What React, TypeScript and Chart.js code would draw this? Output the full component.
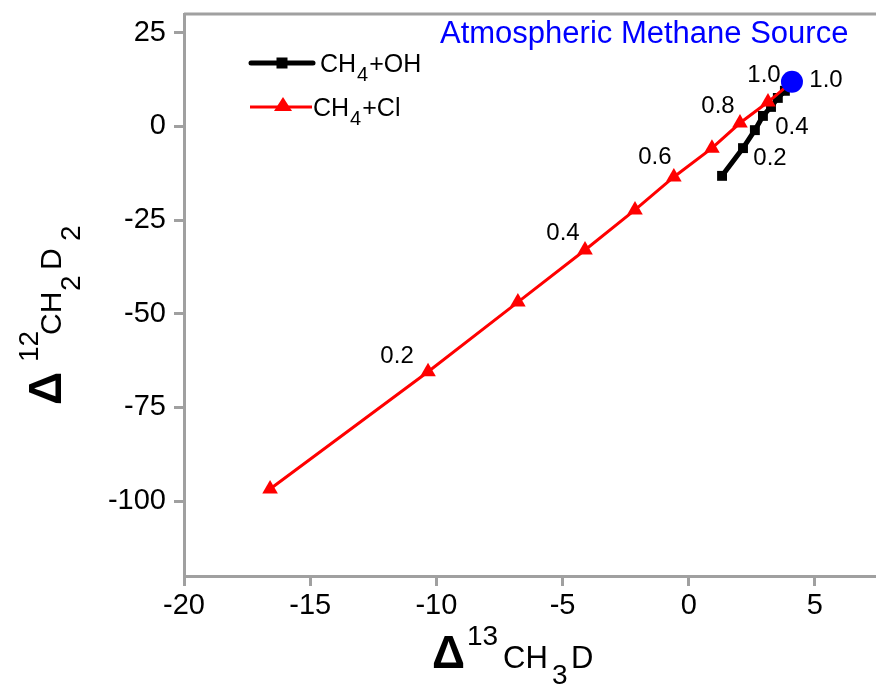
import React, { useEffect, useRef } from "react";
import { Chart, registerables } from "chart.js";
Chart.register(...registerables);

// ---- data ----
const ohX = [1.32, 2.15, 2.62, 2.94, 3.26, 3.53, 3.81, 4.09];
const ohY = [-13.2, -5.8, -1.0, 2.8, 5.2, 7.6, 9.5, 11.9];
const clX = [-16.59, -10.33, -6.77, -4.11, -2.13, -0.59, 0.92, 2.03, 3.14, 4.09];
const clY = [-96.8, -65.5, -46.9, -33.0, -22.3, -13.5, -5.8, 0.9, 6.5, 11.9];
const sourceX = [4.09];
const sourceY = [11.9];
const clLabels = ["", "0.2", "", "0.4", "", "0.6", "", "0.8", "", "1.0"];
const ohLabels = ["", "0.2", "", "0.4", "", "", "", "1.0"];
const xTicks = [-20, -15, -10, -5, 0, 5];
const yTicks = [-100, -75, -50, -25, 0, 25];
const xRange = [-20, 7.42];
const yRange = [-120, 30];
const seriesNames = ["CH4+OH", "CH4+Cl"];
const sourceName = "Atmospheric Methane Source";

const FONT = "'Liberation Sans', Arial, Helvetica, sans-serif";
const GRAY = "#a0a0a0";

const toPts = (xs: number[], ys: number[]) => xs.map((x, i) => ({ x, y: ys[i] }));

type Seg = { t: string; font: string; a: number; b: number };
function drawSegs(ctx: CanvasRenderingContext2D, segs: Seg[]) {
  ctx.textAlign = "left";
  ctx.textBaseline = "alphabetic";
  for (const s of segs) {
    ctx.font = s.font;
    ctx.fillText(s.t, s.a, s.b);
  }
}

const labelOffsets: Record<string, number[][]> = {
  cl: [[0, 0], [-31, -15], [0, 0], [-22, -17], [0, 0], [-19, -20], [0, 0], [-22, -17], [0, 0], [-28, -6]],
  oh: [[0, 0], [27, 10], [0, 0], [29, 11], [0, 0], [0, 0], [0, 0], [34, -1]],
};

const zeroPad = (s: any) => {
  s.paddingLeft = 0;
  s.paddingRight = 0;
  s.paddingTop = 0;
  s.paddingBottom = 0;
};

const decorPlugin = {
  id: "decor",
  afterDatasetsDraw(chart: any) {
    const ctx: CanvasRenderingContext2D = chart.ctx;
    const xs = chart.scales.x;
    const ys = chart.scales.y;
    ctx.save();
    ctx.fillStyle = "#000";
    ctx.font = `24px ${FONT}`;
    ctx.textAlign = "center";
    ctx.textBaseline = "middle";
    clLabels.forEach((l, i) => {
      if (!l) return;
      const o = labelOffsets.cl[i];
      ctx.fillText(l, xs.getPixelForValue(clX[i]) + o[0], ys.getPixelForValue(clY[i]) + o[1]);
    });
    ohLabels.forEach((l, i) => {
      if (!l) return;
      const o = labelOffsets.oh[i];
      ctx.fillText(l, xs.getPixelForValue(ohX[i]) + o[0], ys.getPixelForValue(ohY[i]) + o[1]);
    });
    ctx.restore();
  },
  afterDraw(chart: any) {
    const ctx: CanvasRenderingContext2D = chart.ctx;
    const ca = chart.chartArea;
    ctx.save();
    // top frame line
    ctx.strokeStyle = GRAY;
    ctx.lineWidth = 3;
    ctx.beginPath();
    ctx.moveTo(ca.left, ca.top);
    ctx.lineTo(ca.right + 2, ca.top);
    ctx.stroke();

    // title
    ctx.fillStyle = "#0000ff";
    ctx.font = `31px ${FONT}`;
    ctx.textAlign = "left";
    ctx.textBaseline = "alphabetic";
    ctx.fillText(sourceName, 440, 43);

    // legend
    ctx.lineCap = "round";
    ctx.strokeStyle = "#000";
    ctx.lineWidth = 5;
    ctx.beginPath();
    ctx.moveTo(251, 63);
    ctx.lineTo(313, 63);
    ctx.stroke();
    ctx.fillStyle = "#000";
    ctx.fillRect(276.5, 57.5, 11, 11);
    ctx.lineCap = "butt";
    ctx.strokeStyle = "#ff0000";
    ctx.lineWidth = 3;
    ctx.beginPath();
    ctx.moveTo(250, 107);
    ctx.lineTo(312, 107);
    ctx.stroke();
    ctx.fillStyle = "#ff0000";
    ctx.beginPath();
    ctx.moveTo(283, 97);
    ctx.lineTo(292, 111);
    ctx.lineTo(274, 111);
    ctx.closePath();
    ctx.fill();

    ctx.fillStyle = "#000";
    const legFont = `25px ${FONT}`;
    const subFont = `20px ${FONT}`;
    const drawLeg = (name: string, x: number, y: number) => {
      const m = name.match(/^CH4(.*)$/);
      const rest = m ? m[1] : name;
      ctx.font = legFont;
      ctx.fillText("CH", x, y);
      let cx = x + ctx.measureText("CH").width + 1;
      ctx.font = subFont;
      ctx.fillText("4", cx, y + 9);
      cx += ctx.measureText("4").width + 1;
      ctx.font = legFont;
      ctx.fillText(rest, cx, y);
    };
    drawLeg(seriesNames[0], 320, 72);
    drawLeg(seriesNames[1], 313, 116);

    // x axis title
    drawSegs(ctx, [
      { t: "\u0394", font: `bold 46px ${FONT}`, a: 432, b: 668 },
      { t: "13", font: `28px ${FONT}`, a: 467, b: 645 },
      { t: "CH", font: `31px ${FONT}`, a: 503, b: 668 },
      { t: "3", font: `28px ${FONT}`, a: 552, b: 684 },
      { t: "D", font: `31px ${FONT}`, a: 571, b: 668 },
    ]);

    // y axis title (rotated)
    ctx.translate(61, 405);
    ctx.rotate(-Math.PI / 2);
    drawSegs(ctx, [
      { t: "\u0394", font: `bold 46px ${FONT}`, a: 0, b: 0 },
      { t: "12", font: `28px ${FONT}`, a: 43, b: -23 },
      { t: "CH", font: `30px ${FONT}`, a: 70, b: 0 },
      { t: "2", font: `28px ${FONT}`, a: 114, b: 19 },
      { t: "D", font: `30px ${FONT}`, a: 135, b: 0 },
      { t: "2", font: `28px ${FONT}`, a: 164, b: 19 },
    ]);
    ctx.restore();
  },
};

export default function App() {
  const ref = useRef<HTMLCanvasElement | null>(null);
  useEffect(() => {
    if (!ref.current) return;
    const tickFont = { family: FONT, size: 29 };
    const chart = new Chart(ref.current, {
      type: "scatter",
      data: {
        datasets: [
          {
            label: sourceName,
            data: toPts(sourceX, sourceY),
            backgroundColor: "#0000ff",
            borderColor: "#0000ff",
            pointRadius: 11,
            borderWidth: 0,
            order: 0,
          },
          {
            label: seriesNames[1],
            data: toPts(clX, clY),
            showLine: true,
            borderColor: "#ff0000",
            backgroundColor: "#ff0000",
            borderWidth: 3,
            pointStyle: "triangle",
            pointRadius: 9,
            pointBorderWidth: 0,
            order: 1,
          },
          {
            label: seriesNames[0],
            data: toPts(ohX, ohY),
            showLine: true,
            borderColor: "#000000",
            backgroundColor: "#000000",
            borderWidth: 5,
            pointStyle: "rect",
            pointRadius: 7,
            pointBorderWidth: 0,
            order: 2,
          },
        ],
      } as any,
      options: {
        animation: false,
        responsive: false,
        devicePixelRatio: 1,
        clip: false,
        layout: { autoPadding: false, padding: { top: 14, right: 0, left: 0, bottom: 0 } },
        plugins: { legend: { display: false }, tooltip: { enabled: false }, title: { display: false } },
        scales: {
          x: {
            type: "linear",
            min: xRange[0],
            max: xRange[1],
            afterBuildTicks: (s: any) => {
              s.ticks = xTicks.map((v) => ({ value: v }));
            },
            afterFit: (s: any) => {
              s.height = 108;
              zeroPad(s);
            },
            ticks: { font: tickFont, color: "#000", padding: 3, maxRotation: 0, autoSkip: false },
            grid: { display: true, drawOnChartArea: false, drawTicks: true, tickLength: 10, color: GRAY, lineWidth: 3 },
            border: { display: true, color: GRAY, width: 3 },
          },
          y: {
            type: "linear",
            min: yRange[0],
            max: yRange[1],
            afterBuildTicks: (s: any) => {
              s.ticks = yTicks.map((v) => ({ value: v }));
            },
            afterFit: (s: any) => {
              s.width = 184;
              zeroPad(s);
            },
            ticks: { font: tickFont, color: "#000", padding: 8, autoSkip: false },
            grid: { display: true, drawOnChartArea: false, drawTicks: true, tickLength: 10, color: GRAY, lineWidth: 3 },
            border: { display: true, color: GRAY, width: 3 },
          },
        },
      } as any,
      plugins: [decorPlugin],
    });
    return () => chart.destroy();
  }, []);
  return (
    <div style={{ position: "absolute", left: 0, top: 0, width: 876, height: 684, background: "#fff" }}>
      <canvas ref={ref} width={876} height={684} style={{ display: "block" }} />
    </div>
  );
}
